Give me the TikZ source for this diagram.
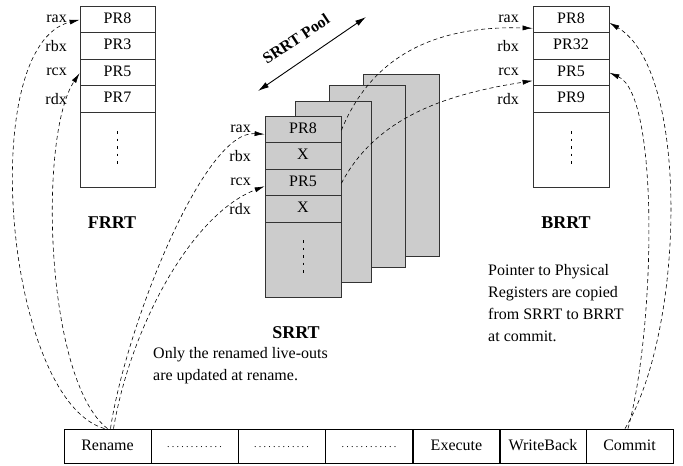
\documentclass[tikz,border=0pt]{standalone}
\usepackage{fontspec}
\setmainfont{Liberation Serif}
\usetikzlibrary{arrows.meta}
\begin{document}
\begin{tikzpicture}[x=1pt,y=-1pt,
  every node/.style={font=\fontsize{16}{22}\selectfont},
  cell/.style={draw=black!80, line width=0.8pt, minimum height=26.5pt, inner sep=0pt, text height=11pt, text depth=3pt},
  gcell/.style={cell, fill=black!20},
  reglbl/.style={anchor=east, inner sep=0pt},
  heading/.style={font=\fontsize{18}{22}\selectfont\bfseries},
  sheet/.style={draw=black!80, line width=0.8pt, fill=black!20},
  stage/.style={draw=black, line width=0.8pt, minimum width=87pt, minimum height=34pt, inner sep=0pt, text height=11pt, text depth=3pt},
  link/.style={dashed, dash pattern=on 4pt off 3pt, line width=0.6pt, -{Latex[length=10pt,width=5pt]}},
  vdots/.style={line width=0.9pt, dash pattern=on 2.5pt off 5pt}
]
\useasboundingbox (0,0) rectangle (683,466);

% ---------- FRRT ----------
\node[cell, minimum width=75pt] (fr1) at (117.5,19.25) {PR8};
\node[cell, minimum width=75pt] (fr2) at (117.5,45.75) {PR3};
\node[cell, minimum width=75pt] (fr3) at (117.5,72.25) {PR5};
\node[cell, minimum width=75pt] (fr4) at (117.5,98.75) {PR7};
\node[cell, minimum width=75pt, minimum height=75pt] (fr5) at (117.5,149.5) {};
\draw[vdots] (117.5,131) -- (117.5,166);
\node[reglbl] (frl1) at (67,19.25) {rax};
\node[reglbl] (frl2) at (67,45.75) {rbx};
\node[reglbl] (frl3) at (67,72.25) {rcx};
\node[reglbl] (frl4) at (67,98.75) {rdx};
\node[heading] (frrt) at (112,223) {FRRT};

% ---------- SRRT sheets ----------
\draw[sheet] (363,74) rectangle (439,256);
\draw[sheet] (329,85) rectangle (405,267);
\draw[sheet] (295,101) rectangle (371,282);
\node[gcell, minimum width=76pt] (sr1) at (303,129.25) {PR8};
\node[gcell, minimum width=76pt] (sr2) at (303,155.75) {X};
\node[gcell, minimum width=76pt] (sr3) at (303,182.25) {PR5};
\node[gcell, minimum width=76pt] (sr4) at (303,208.75) {X};
\node[gcell, minimum width=76pt, minimum height=75pt] (sr5) at (303,259.5) {};
\draw[vdots] (303,240) -- (303,275);
\node[reglbl] (srl1) at (251,129.25) {rax};
\node[reglbl] (srl2) at (251,155.75) {rbx};
\node[reglbl] (srl3) at (251,182.25) {rcx};
\node[reglbl] (srl4) at (251,208.75) {rdx};
\node[heading, anchor=base] (srrt) at (296,338) {SRRT};

% pool arrow
\coordinate (pa) at (258,91);
\coordinate (pb) at (366,17);
\draw[line width=0.9pt, {Latex[length=11pt,width=6pt]}-{Latex[length=11pt,width=6pt]}] (pa) -- (pb);
\node[font=\fontsize{16}{20}\selectfont\bfseries, rotate=33.5] (pool) at (296,39) {SRRT Pool};

% ---------- BRRT ----------
\node[cell, minimum width=76pt] (br1) at (571,19.25) {PR8};
\node[cell, minimum width=76pt] (br2) at (571,45.75) {PR32};
\node[cell, minimum width=76pt] (br3) at (571,72.25) {PR5};
\node[cell, minimum width=76pt] (br4) at (571,98.75) {PR9};
\node[cell, minimum width=76pt, minimum height=75pt] (br5) at (571,149.5) {};
\draw[vdots] (571,131) -- (571,166);
\node[reglbl] (brl1) at (519,19.25) {rax};
\node[reglbl] (brl2) at (519,45.75) {rbx};
\node[reglbl] (brl3) at (519,72.25) {rcx};
\node[reglbl] (brl4) at (519,98.75) {rdx};
\node[heading] (brrt) at (566,223) {BRRT};

% ---------- notes ----------
\node[anchor=base west, align=left, inner sep=0pt] (note1) at (153,380)
  {Only the renamed live-outs\\are updated at rename.};
\node[anchor=base west, align=left, inner sep=0pt] (note2) at (488,341)
  {Pointer to Physical\\Registers are copied\\from SRRT to BRRT\\at commit.};

% ---------- pipeline ----------
\newcommand{\stagedots}{\raisebox{3pt}{\fontsize{10}{10}\selectfont\leaders\hbox to 4.75pt{\hss.\hss}\hskip 57pt}}
\node[stage] (p1) at (107.5,446) {Rename};
\node[stage] (p2) at (194.5,446) {\stagedots};
\node[stage] (p3) at (281.5,446) {\stagedots};
\node[stage] (p4) at (369,446) {\stagedots};
\node[stage] (p5) at (456.5,446) {Execute};
\node[stage] (p6) at (543,446) {WriteBack};
\node[stage] (p7) at (629.5,446) {Commit};

% ---------- connectors ----------
% Rename -> FRRT
\draw[link] ([xshift=-3pt]p1.north) .. controls (5,400) and (-25,45) .. ([yshift=-0.5pt]fr1.west);
\draw[link] ([xshift=0pt]p1.north) .. controls (45,380) and (38,135) .. ([yshift=-1pt]fr3.west);
% Rename -> SRRT
\draw[link] ([xshift=3pt]p1.north) .. controls (125,330) and (203,130) .. ([yshift=-5pt]sr1.west);
\draw[link] ([xshift=6pt]p1.north) .. controls (130,330) and (190,215) .. ([yshift=-4pt]sr3.west);
% SRRT -> BRRT
\draw[link] ([yshift=-1pt]sr1.east) .. controls (370,60) and (430,25) .. ([yshift=-9pt]br1.west);
\draw[link] ([yshift=-1pt]sr3.east) .. controls (375,120) and (440,95) .. ([yshift=-8.5pt]br3.west);
% Commit -> BRRT
\draw[link] ([xshift=-4.5pt]p7.north) .. controls (685,330) and (690,70) .. ([yshift=-3.5pt]br1.east);
\draw[link] ([xshift=-1.5pt]p7.north) .. controls (655,330) and (660,95) .. ([yshift=-0.5pt]br3.east);
\end{tikzpicture}
\end{document}
